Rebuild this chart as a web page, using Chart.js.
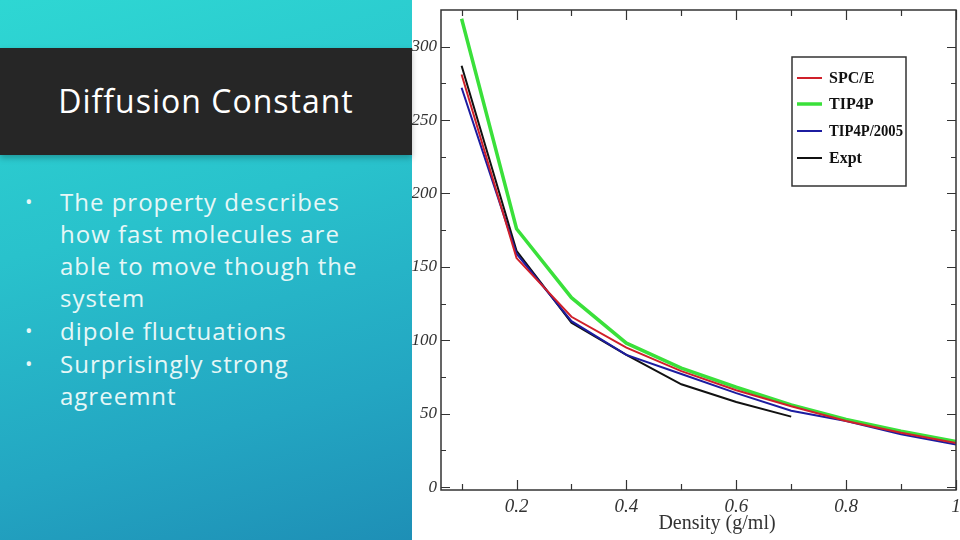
<!DOCTYPE html>
<html>
<head>
<meta charset="utf-8">
<script src="https://cdn.jsdelivr.net/npm/chart.js@4.4.0/dist/chart.umd.min.js"></script>
<style>
  html, body { margin: 0; padding: 0; }
  body { width: 960px; height: 540px; position: relative; overflow: hidden; background: #fff; }
  #side {
    position: absolute; left: 0; top: 0; width: 412px; height: 540px;
    background: linear-gradient(165deg, #2ed7d3 0%, #29c2cc 40%, #23a6c2 75%, #1e8fb6 100%);
  }
  #bar {
    position: absolute; left: 0; top: 48px; width: 412px; height: 107px;
    background: #262626; box-shadow: 0 3px 6px rgba(0,0,0,0.25);
  }
  #bar h1 {
    margin: 0; position: absolute; left: 0; width: 412px; text-align: center;
    font: 32px "Open Sans", sans-serif; letter-spacing: 1px; color: #fff; line-height: 44px; top: 31px;
  }
  #bullets {
    position: absolute; left: 0; top: 186px; margin: 0; padding: 0; list-style: none;
    font: 24px "Open Sans", sans-serif; letter-spacing: 1px; color: #e6f7f7; line-height: 32px;
  }
  #bullets li { position: relative; padding-left: 60px; width: 305px; margin-bottom: 1px; }
  #bullets li::before { content: "\2022"; position: absolute; left: 25px; font-size: 20px; }
  #chart { position: absolute; left: 412px; top: 0; }
</style>
</head>
<body>
<div id="side">
  <div id="bar"><h1>Diffusion Constant</h1></div>
  <ul id="bullets">
    <li>The property describes how fast molecules are able to move though the system</li>
    <li>dipole fluctuations</li>
    <li>Surprisingly strong agreemnt</li>
  </ul>
</div>
<canvas id="chart" width="548" height="540"></canvas>
<script>
// Diffusion constant vs density

let density = [0.1, 0.2, 0.3, 0.4, 0.5, 0.6, 0.7, 0.8, 0.9, 1.0];
let spce = [281, 156, 116, 95, 79, 66, 55, 45, 37, 30];
let tip4p = [319, 176, 129, 98, 81, 68, 56, 46, 38, 31];
let tip4p2005 = [272, 159, 113, 90, 77, 64, 52, 45, 36, 29];
let expt = [287, 161, 112, 90, 70, 58, 48];

let xTicks = [0.2, 0.4, 0.6, 0.8, 1];
let xMinor = [0.1, 0.3, 0.5, 0.7, 0.9];
let yTicks = [0, 50, 100, 150, 200, 250, 300];
let yMinor = [25, 75, 125, 175, 225, 275];

const pairs = (arr) => arr.map((v, i) => ({ x: density[i], y: v }));

// inward ticks on all four sides + closed frame
const frame = {
    id: 'frame',
    afterDatasetsDraw(chart) {
        const { ctx, chartArea: a, scales } = chart;
        ctx.save();
        ctx.strokeStyle = '#333';
        ctx.lineWidth = 1.5;
        ctx.strokeRect(a.left, a.top, a.right - a.left, a.bottom - a.top);
        ctx.lineWidth = 1.2;
        ctx.beginPath();
        const tx = (vals, len) => vals.forEach(v => {
            const px = Math.round(scales.x.getPixelForValue(v)) + 0.5;
            ctx.moveTo(px, a.bottom); ctx.lineTo(px, a.bottom - len);
            ctx.moveTo(px, a.top); ctx.lineTo(px, a.top + len);
        });
        const ty = (vals, len) => vals.forEach(v => {
            const py = Math.round(scales.y.getPixelForValue(v)) + 0.5;
            ctx.moveTo(a.left, py); ctx.lineTo(a.left + len, py);
            ctx.moveTo(a.right, py); ctx.lineTo(a.right - len, py);
        });
        tx(xTicks, 10); tx(xMinor, 6);
        ty(yTicks, 9); ty(yMinor, 5);
        ctx.stroke();

        // x axis title sits a little right of centre in the original
        ctx.fillStyle = '#333';
        ctx.font = '20px "Liberation Serif", serif';
        ctx.textAlign = 'center';
        ctx.textBaseline = 'middle';
        ctx.fillText('Density (g/ml)', 305, 524);
        ctx.restore();
    }
};

// boxed legend like the original plot
const boxLegend = {
    id: 'boxLegend',
    afterDraw(chart) {
        const { ctx } = chart;
        const x0 = 380, y0 = 57, w = 114, h = 129;
        ctx.save();
        ctx.fillStyle = '#fff';
        ctx.fillRect(x0, y0, w, h);
        ctx.strokeStyle = '#333';
        ctx.lineWidth = 1.5;
        ctx.strokeRect(x0, y0, w, h);
        ctx.font = 'bold 16px "Liberation Serif", serif';
        ctx.textBaseline = 'middle';
        const rows = [78, 104, 131, 158];
        chart.data.datasets.forEach((ds, i) => {
            ctx.strokeStyle = ds.borderColor;
            ctx.lineWidth = ds.borderWidth > 3 ? 3.5 : 2;
            ctx.beginPath();
            ctx.moveTo(x0 + 5, rows[i]); ctx.lineTo(x0 + 30, rows[i]);
            ctx.stroke();
            ctx.fillStyle = '#111';
            ctx.fillText(ds.label, x0 + 37, rows[i] + 1, 74);
        });
        ctx.restore();
    }
};

const ct1 = document.getElementById('chart').getContext('2d');
const chart = new Chart(ct1, {
    type: 'line',
    data: {
        datasets: [{
            label: 'SPC/E',
            data: pairs(spce),
            borderColor: '#d0202a',
            borderWidth: 2,
            pointRadius: 0,
            tension: 0
        }, {
            label: 'TIP4P',
            data: pairs(tip4p),
            borderColor: '#3ae03a',
            borderWidth: 3.5,
            pointRadius: 0,
            tension: 0
        }, {
            label: 'TIP4P/2005',
            data: pairs(tip4p2005),
            borderColor: '#1c1ca0',
            borderWidth: 2,
            pointRadius: 0,
            tension: 0
        }, {
            label: 'Expt',
            data: pairs(expt),
            borderColor: '#111111',
            borderWidth: 2,
            pointRadius: 0,
            tension: 0
        }]
    },
    options: {
        responsive: false,
        animation: false,
        devicePixelRatio: 1,
        layout: { padding: { top: 10, right: 4, left: 0, bottom: 0 } },
        scales: {
            x: {
                type: 'linear',
                min: 0.0625,
                max: 1,
                grid: { display: false, drawTicks: false },
                border: { display: false },
                afterBuildTicks: (s) => { s.ticks = xTicks.map(v => ({ value: v })); },
                afterFit: (s) => { s.height = 50; s.paddingLeft = 0; s.paddingRight = 0; },
                ticks: {
                    padding: 6,
                    color: '#333',
                    font: { family: '"Liberation Serif", serif', style: 'italic', size: 19 },
                    callback: (v) => String(v)
                }
            },
            y: {
                min: -2,
                max: 325,
                grid: { display: false, drawTicks: false },
                border: { display: false },
                afterBuildTicks: (s) => { s.ticks = yTicks.map(v => ({ value: v })); },
                afterFit: (s) => { s.width = 29; s.paddingTop = 0; s.paddingBottom = 0; },
                ticks: {
                    padding: 4,
                    color: '#333',
                    font: { family: '"Liberation Serif", serif', style: 'italic', size: 17 }
                }
            }
        },
        plugins: {
            legend: { display: false },
            tooltip: { enabled: false }
        }
    },
    plugins: [frame, boxLegend]
});
</script>
</body>
</html>
